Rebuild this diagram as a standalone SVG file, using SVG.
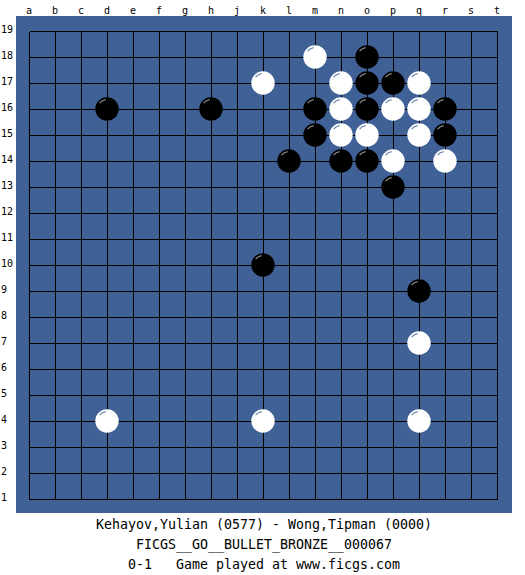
<svg xmlns="http://www.w3.org/2000/svg" xmlns:xlink="http://www.w3.org/1999/xlink" width="525" height="575" viewBox="0 0 525 575">
<style>
.lbl{font-family:"DejaVu Sans Mono","Liberation Mono",monospace;font-size:10px;fill:#000}
.col{text-anchor:middle}
.info{font-family:"DejaVu Sans Mono","Liberation Mono",monospace;font-size:13.3px;fill:#000;text-anchor:middle}
.grid{stroke:#000;stroke-width:1;fill:none;shape-rendering:crispEdges}
</style>
<defs>
<g id="W"><circle r="11.7" fill="#fff"/><path d="M-7.4,-5.9 A9.5,9.5 0 0 1 -1.3,-9.4" fill="none" stroke="#6a88b0" stroke-width="1.2"/></g>
<g id="B"><circle r="11.7" fill="#000"/><path d="M-7.4,-5.9 A9.5,9.5 0 0 1 -1.3,-9.4" fill="none" stroke="#8c8c8c" stroke-width="1.2"/></g>
</defs>
<rect width="525" height="575" fill="#fff"/>
<rect x="16" y="16" width="496" height="497" fill="#3f6195"/>
<g id="labels" class="lbl">
<g class="col">
<text x="29" y="14">a</text><text x="55" y="14">b</text><text x="81" y="14">c</text><text x="107" y="14">d</text><text x="133" y="14">e</text><text x="159" y="14">f</text><text x="185" y="14">g</text><text x="211" y="14">h</text><text x="237" y="14">j</text><text x="263" y="14">k</text><text x="289" y="14">l</text><text x="315" y="14">m</text><text x="341" y="14">n</text><text x="367" y="14">o</text><text x="393" y="14">p</text><text x="419" y="14">q</text><text x="445" y="14">r</text><text x="471" y="14">s</text><text x="497" y="14">t</text>
</g>
<text x="1" y="33">19</text><text x="1" y="59">18</text><text x="1" y="85">17</text><text x="1" y="111">16</text><text x="1" y="137">15</text><text x="1" y="163">14</text><text x="1" y="189">13</text><text x="1" y="215">12</text><text x="1" y="241">11</text><text x="1" y="267">10</text><text x="1" y="293">9</text><text x="1" y="319">8</text><text x="1" y="345">7</text><text x="1" y="371">6</text><text x="1" y="397">5</text><text x="1" y="423">4</text><text x="1" y="449">3</text><text x="1" y="475">2</text><text x="1" y="501">1</text>
</g>
<g id="grid">
<path class="grid" d="M29.5,31.5V499.5M55.5,31.5V499.5M81.5,31.5V499.5M107.5,31.5V499.5M133.5,31.5V499.5M159.5,31.5V499.5M185.5,31.5V499.5M211.5,31.5V499.5M237.5,31.5V499.5M263.5,31.5V499.5M289.5,31.5V499.5M315.5,31.5V499.5M341.5,31.5V499.5M367.5,31.5V499.5M393.5,31.5V499.5M419.5,31.5V499.5M445.5,31.5V499.5M471.5,31.5V499.5M497.5,31.5V499.5
M29.5,31.5H497.5M29.5,57.5H497.5M29.5,83.5H497.5M29.5,109.5H497.5M29.5,135.5H497.5M29.5,161.5H497.5M29.5,187.5H497.5M29.5,213.5H497.5M29.5,239.5H497.5M29.5,265.5H497.5M29.5,291.5H497.5M29.5,317.5H497.5M29.5,343.5H497.5M29.5,369.5H497.5M29.5,395.5H497.5M29.5,421.5H497.5M29.5,447.5H497.5M29.5,473.5H497.5M29.5,499.5H497.5"/>
</g>
<g id="stones">
<g id="m18"><use xlink:href="#W" href="#W" x="315" y="57"/></g>
<g id="o18"><use xlink:href="#B" href="#B" x="367" y="57"/></g>
<g id="k17"><use xlink:href="#W" href="#W" x="263" y="83"/></g>
<g id="n17"><use xlink:href="#W" href="#W" x="341" y="83"/></g>
<g id="o17"><use xlink:href="#B" href="#B" x="367" y="83"/></g>
<g id="p17"><use xlink:href="#B" href="#B" x="393" y="83"/></g>
<g id="q17"><use xlink:href="#W" href="#W" x="419" y="83"/></g>
<g id="d16"><use xlink:href="#B" href="#B" x="107" y="109"/></g>
<g id="h16"><use xlink:href="#B" href="#B" x="211" y="109"/></g>
<g id="m16"><use xlink:href="#B" href="#B" x="315" y="109"/></g>
<g id="n16"><use xlink:href="#W" href="#W" x="341" y="109"/></g>
<g id="o16"><use xlink:href="#B" href="#B" x="367" y="109"/></g>
<g id="p16"><use xlink:href="#W" href="#W" x="393" y="109"/></g>
<g id="q16"><use xlink:href="#W" href="#W" x="419" y="109"/></g>
<g id="r16"><use xlink:href="#B" href="#B" x="445" y="109"/></g>
<g id="m15"><use xlink:href="#B" href="#B" x="315" y="135"/></g>
<g id="n15"><use xlink:href="#W" href="#W" x="341" y="135"/></g>
<g id="o15"><use xlink:href="#W" href="#W" x="367" y="135"/></g>
<g id="q15"><use xlink:href="#W" href="#W" x="419" y="135"/></g>
<g id="r15"><use xlink:href="#B" href="#B" x="445" y="135"/></g>
<g id="l14"><use xlink:href="#B" href="#B" x="289" y="161"/></g>
<g id="n14"><use xlink:href="#B" href="#B" x="341" y="161"/></g>
<g id="o14"><use xlink:href="#B" href="#B" x="367" y="161"/></g>
<g id="p14"><use xlink:href="#W" href="#W" x="393" y="161"/></g>
<g id="r14"><use xlink:href="#W" href="#W" x="445" y="161"/></g>
<g id="p13"><use xlink:href="#B" href="#B" x="393" y="187"/></g>
<g id="k10"><use xlink:href="#B" href="#B" x="263" y="265"/></g>
<g id="q9"><use xlink:href="#B" href="#B" x="419" y="291"/></g>
<g id="q7"><use xlink:href="#W" href="#W" x="419" y="343"/></g>
<g id="d4"><use xlink:href="#W" href="#W" x="107" y="421"/></g>
<g id="k4"><use xlink:href="#W" href="#W" x="263" y="421"/></g>
<g id="q4"><use xlink:href="#W" href="#W" x="419" y="421"/></g>
</g>
<g id="info">
<text class="info" x="264" y="529">Kehayov,Yulian (0577) - Wong,Tipman (0000)</text>
<text class="info" x="264" y="549" xml:space="preserve">FICGS__GO__BULLET_BRONZE__000067</text>
<text class="info" x="264" y="569" xml:space="preserve">0-1   Game played at www.ficgs.com</text>
</g>
</svg>
